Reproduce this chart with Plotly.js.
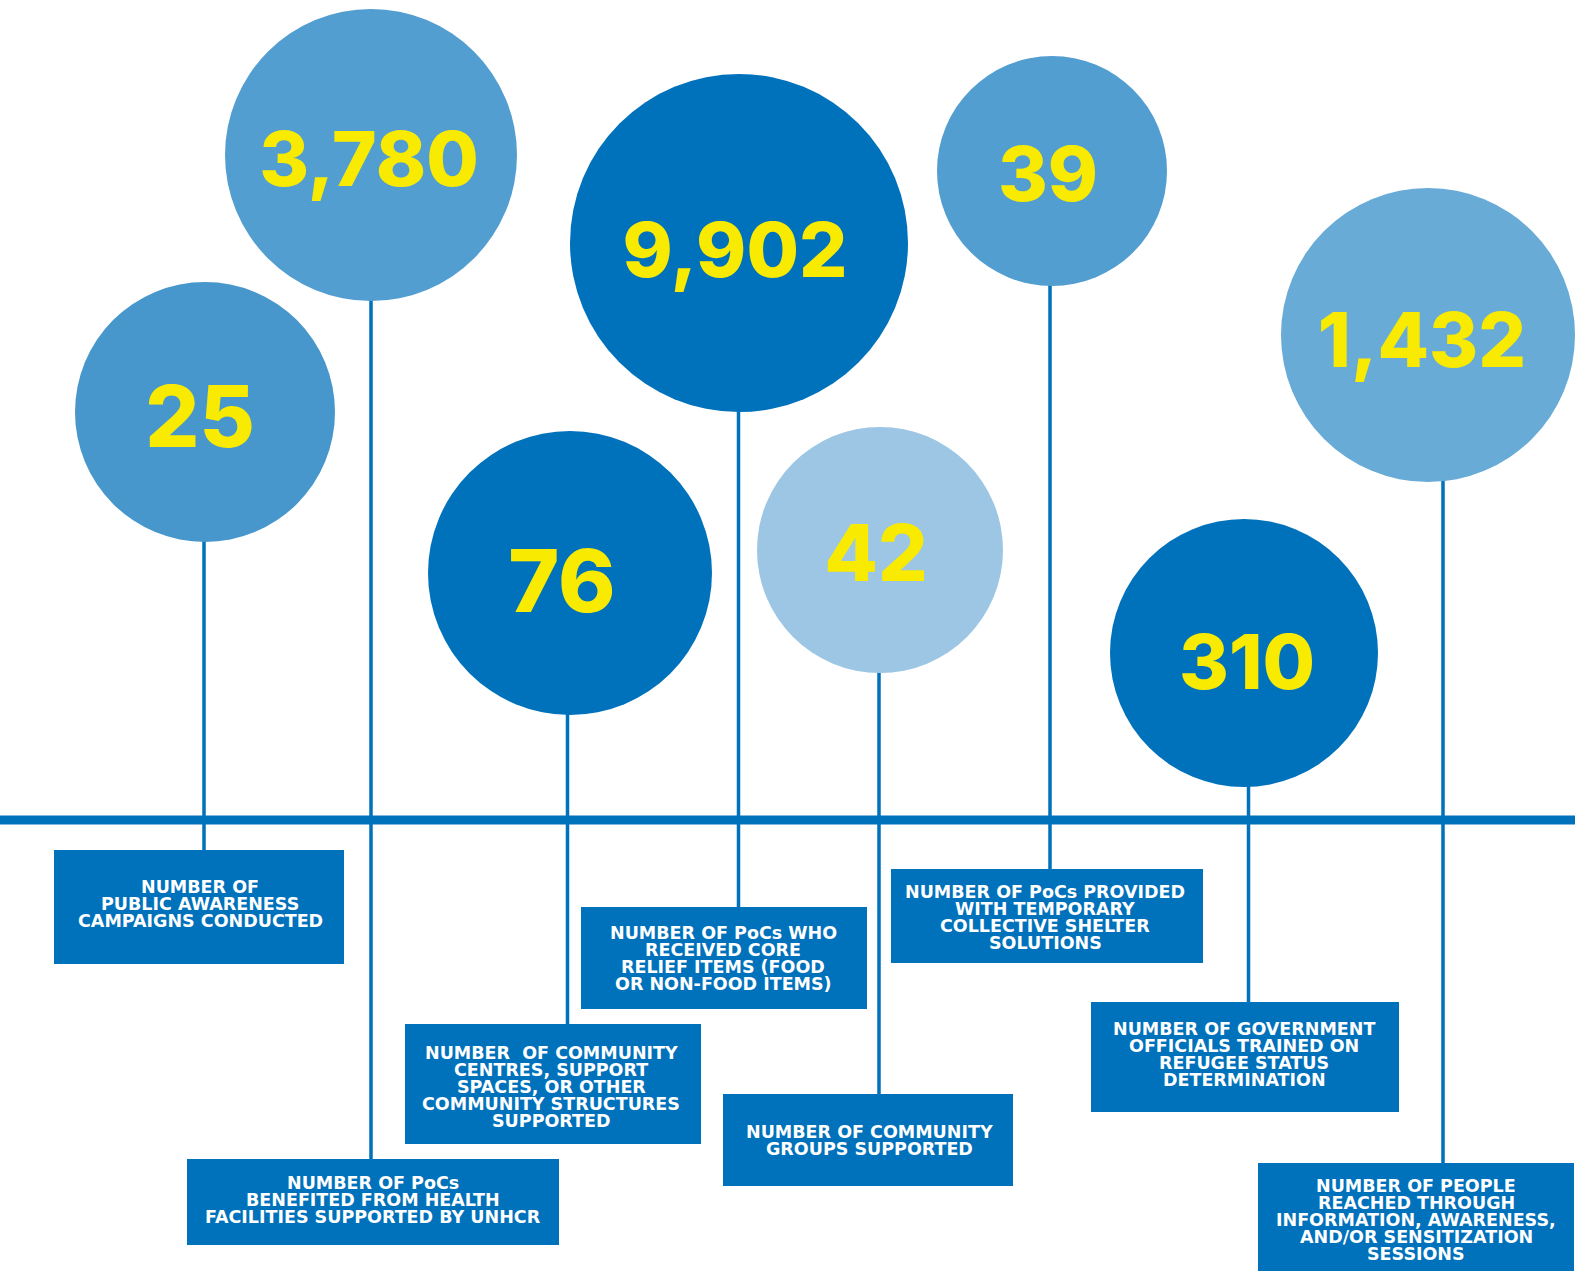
<!DOCTYPE html>
<html>
<head>
<meta charset="utf-8">
<script src="https://cdn.plot.ly/plotly-3.0.1.min.js"></script>
<style>html,body{margin:0;padding:0;background:#fff;}#chart{width:1575px;height:1271px;}</style>
</head>
<body>
<div id="chart"></div>
<script>
// ---- data ----
const values = [25, 3780, 76, 9902, 42, 39, 310, 1432];
const labels = [
  "NUMBER OF<br>PUBLIC AWARENESS<br>CAMPAIGNS CONDUCTED",
  "NUMBER OF PoCs<br>BENEFITED FROM HEALTH<br>FACILITIES SUPPORTED BY UNHCR",
  "NUMBER  OF COMMUNITY<br>CENTRES, SUPPORT<br>SPACES, OR OTHER<br>COMMUNITY STRUCTURES<br>SUPPORTED",
  "NUMBER OF PoCs WHO<br>RECEIVED CORE<br>RELIEF ITEMS (FOOD<br>OR NON-FOOD ITEMS)",
  "NUMBER OF COMMUNITY<br>GROUPS SUPPORTED",
  "NUMBER OF PoCs PROVIDED<br>WITH TEMPORARY<br>COLLECTIVE SHELTER<br>SOLUTIONS",
  "NUMBER OF GOVERNMENT<br>OFFICIALS TRAINED ON<br>REFUGEE STATUS<br>DETERMINATION",
  "NUMBER OF PEOPLE<br>REACHED THROUGH<br>INFORMATION, AWARENESS,<br>AND/OR SENSITIZATION<br>SESSIONS"
];

// ---- layout (positions in page pixels) ----
const circleX = [205, 371, 570, 739, 880, 1052, 1244, 1428];
const circleY = [412, 155, 573, 243, 550, 171, 653, 335];
const circleR = [130, 146, 142, 169, 123, 115, 134, 147];
const numX = [200, 369, 562, 735, 876, 1048, 1247, 1422];
const numY = [426, 167, 590, 258, 561, 182, 670, 348];
const numSize = [85, 76, 87, 76, 78, 76, 76, 75];
const stemX = [204, 371, 567.5, 738.5, 879, 1050, 1248.5, 1443];
const boxX0 = [54, 187, 405, 581, 723, 891, 1091, 1258];
const boxX1 = [344, 559, 701, 867, 1013, 1203, 1399, 1574];
const boxY0 = [850, 1159, 1024, 907, 1094, 869, 1002, 1163];
const boxY1 = [964, 1245, 1144, 1009, 1186, 963, 1112, 1285];
const labelX = [200, 373, 551, 723, 869, 1045, 1244, 1416];
const labelY = [887, 1183, 1052.5, 933, 1132, 892, 1029, 1186];
const lineStep = 17.1;
const axisY = 820;

// ---- styles ----
const circleColors = ["#4797CC", "#529ED1", "#0071BB", "#0071BB", "#9CC6E3", "#529ED1", "#0071BB", "#68ABD6"];
const dark = "#0071BB";
const yellow = "#F8EA00";

const shapes = [];
// timeline
shapes.push({type: "line", xref: "x", yref: "y", x0: 0, x1: 1575, y0: axisY, y1: axisY,
  line: {color: dark, width: 9}, layer: "below"});
// stems
values.forEach((v, i) => {
  shapes.push({type: "line", xref: "x", yref: "y", x0: stemX[i], x1: stemX[i],
    y0: circleY[i] + circleR[i] - 2, y1: boxY0[i] + 2, line: {color: dark, width: 3.5}, layer: "below"});
});
// boxes
values.forEach((v, i) => {
  shapes.push({type: "rect", xref: "x", yref: "y", x0: boxX0[i], x1: boxX1[i], y0: boxY0[i], y1: boxY1[i],
    fillcolor: dark, line: {width: 0}, layer: "below"});
});

const annotations = [];
labels.forEach((lab, i) => {
  lab.split("<br>").forEach((ln, j) => {
    annotations.push({x: labelX[i], y: labelY[i] + j * lineStep, xref: "x", yref: "y",
      text: ln, showarrow: false, xanchor: "center", yanchor: "middle",
      font: {family: "DejaVu Sans", size: 17.5, color: "#FFFFFF", weight: 700}});
  });
});

const traces = [
  {type: "scatter", mode: "markers", x: circleX, y: circleY, hoverinfo: "skip",
   marker: {size: circleR.map(r => 2 * r), color: circleColors, opacity: 1, line: {width: 0}}},
  {type: "scatter", mode: "text", x: numX, y: numY, hoverinfo: "skip",
   text: values.map(v => v.toLocaleString("en-US")), textposition: "middle center",
   textfont: {family: "Inter", size: numSize, color: yellow, weight: 800}}
];

const layout = {
  width: 1575, height: 1271,
  margin: {l: 0, r: 0, t: 0, b: 0, pad: 0},
  paper_bgcolor: "#FFFFFF", plot_bgcolor: "#FFFFFF",
  showlegend: false,
  xaxis: {range: [0, 1575], visible: false, fixedrange: true},
  yaxis: {range: [1271, 0], visible: false, fixedrange: true},
  shapes: shapes,
  annotations: annotations
};

Plotly.newPlot("chart", traces, layout, {staticPlot: true, displayModeBar: false});
</script>
</body>
</html>
